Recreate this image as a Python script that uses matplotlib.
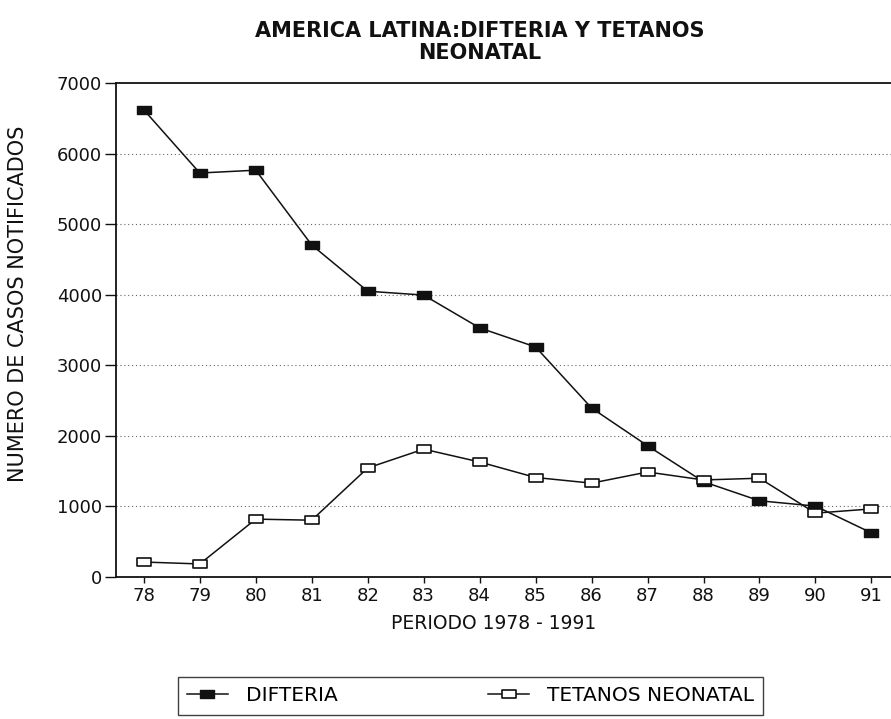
import numpy as np
import matplotlib.pyplot as plt
from matplotlib.path import Path

plt.rcParams['font.family'] = ['DejaVu Sans']

years = [78, 79, 80, 81, 82, 83, 84, 85, 86, 87, 88, 89, 90, 91]
year_labels = [str(y) for y in years]
difteria = [6620, 5725, 5765, 4705, 4050, 3995, 3530, 3260, 2395, 1860, 1350, 1080, 1005, 625]
tetanos = [212, 185, 820, 805, 1545, 1812, 1630, 1410, 1330, 1488, 1375, 1400, 905, 965]
yticks = [0, 1000, 2000, 3000, 4000, 5000, 6000, 7000]

# wide flat box used as the marker
box = Path([(-1.8, -1), (1.8, -1), (1.8, 1), (-1.8, 1), (-1.8, -1)],
           [Path.MOVETO, Path.LINETO, Path.LINETO, Path.LINETO, Path.CLOSEPOLY])

fig = plt.figure(figsize=(8.91, 7.19), dpi=100)
ax = fig.add_axes([0.130, 0.1975, 0.870, 0.687])

l1, = ax.plot(years, difteria, color='#111111', lw=1.1, marker=box, ms=9.5,
              mfc='#111111', mec='#111111', label='DIFTERIA')
l2, = ax.plot(years, tetanos, color='#111111', lw=1.1, marker=box, ms=9.5,
              mfc='white', mec='#111111', mew=1.2, label='TETANOS NEONATAL')

ax.set_xlim(77.5, 91.35)
ax.set_ylim(0, 7000)
ax.set_xticks(years)
ax.set_xticklabels(year_labels)
ax.set_yticks(yticks)
for y in yticks[1:-1]:
    ax.axhline(y, color='#666666', lw=0.8, ls=(0, (1, 2.5)), zorder=0)

for s in ['left', 'bottom', 'top']:
    ax.spines[s].set_color('#111111')
    ax.spines[s].set_linewidth(1.3)
ax.spines['right'].set_visible(False)
ax.tick_params(axis='both', labelsize=13, color='#111111', labelcolor='#111111',
               direction='out', width=1)
ax.tick_params(axis='x', length=4, pad=3)
ax.tick_params(axis='y', length=8, pad=2)

ax.set_xlabel('PERIODO 1978 - 1991', fontsize=13.5, color='#111111')
ax.xaxis.set_label_coords(0.488, -0.075)
ax.set_ylabel('NUMERO DE CASOS NOTIFICADOS', fontsize=15, color='#111111')
ax.yaxis.set_label_coords(-0.113, 0.553)

fig.text(0.538, 0.957, 'AMERICA LATINA:DIFTERIA Y TETANOS', ha='center', va='center',
         fontsize=15, fontweight='bold', color='#111111')
fig.text(0.538, 0.926, 'NEONATAL', ha='center', va='center',
         fontsize=15, fontweight='bold', color='#111111')

leg = fig.legend(handles=[l1, l2], loc='center left',
                 bbox_to_anchor=(0.2, 0.032),
                 ncol=2, fontsize=14.5, frameon=True, fancybox=False, edgecolor='#111111',
                 handlelength=2.0, handletextpad=0.9, columnspacing=7.5,
                 borderpad=0.45, borderaxespad=0, markerscale=1.0)
leg.get_frame().set_linewidth(1.0)

fig.savefig('out.png', dpi=100)
